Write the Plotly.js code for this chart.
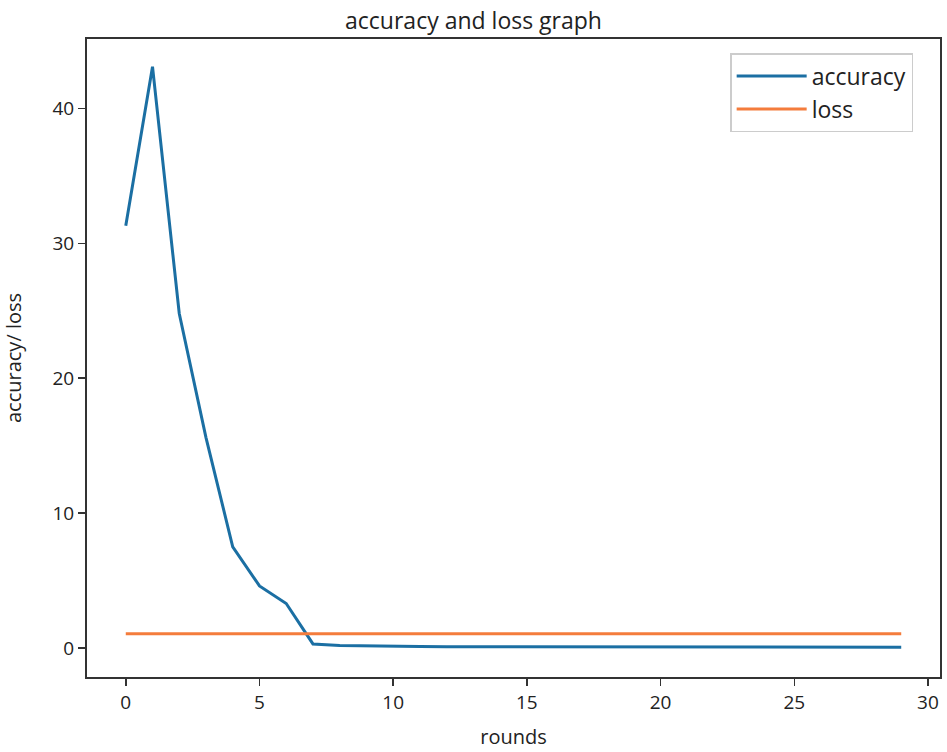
<!DOCTYPE html>
<html>
<head>
<meta charset="utf-8">
<script src="https://cdn.plot.ly/plotly-3.0.1.min.js"></script>
<style>html,body{margin:0;padding:0;background:#fff;}#chart{width:947px;height:752px;}</style>
</head>
<body>
<div id="chart"></div>
<script>
const rounds = [0,1,2,3,4,5,6,7,8,9,10,11,12,13,14,15,16,17,18,19,20,21,22,23,24,25,26,27,28,29];
const accuracy = [31.3,43.1,24.8,15.6,7.5,4.6,3.3,0.3,0.18,0.14,0.12,0.11,0.1,0.1,0.09,0.09,0.08,0.08,0.08,0.07,0.07,0.07,0.07,0.06,0.06,0.06,0.06,0.05,0.05,0.05];
const loss = [1.05,1.05,1.05,1.05,1.05,1.05,1.05,1.05,1.05,1.05,1.05,1.05,1.05,1.05,1.05,1.05,1.05,1.05,1.05,1.05,1.05,1.05,1.05,1.05,1.05,1.05,1.05,1.05,1.05,1.05];
const xTicks = [0,5,10,15,20,25,30];
const yTicks = [0,10,20,30,40];

const traces = [
  {x: rounds, y: accuracy, name: 'accuracy', mode: 'lines', line: {color: '#1b6fa3', width: 3}},
  {x: rounds, y: loss, name: 'loss', mode: 'lines', line: {color: '#f47c3c', width: 3}}
];
const font = {family: '"Open Sans", "Noto Sans", sans-serif', color: '#222'};
const layout = {
  width: 947, height: 752,
  margin: {l: 87, r: 7, t: 39, b: 75},
  paper_bgcolor: '#fff', plot_bgcolor: '#fff',
  font: Object.assign({size: 18}, font),
  title: {text: 'accuracy and loss graph', font: Object.assign({size: 23}, font), x: 0.5, xanchor: 'center', y: 0.983, yanchor: 'top'},
  showlegend: true,
  legend: {x: 0.754, y: 0.978, xanchor: 'left', yanchor: 'top', bordercolor: '#ccc', borderwidth: 1.5,
           bgcolor: '#fff', font: Object.assign({size: 23}, font), tracegroupgap: 0, itemwidth: 70},
  xaxis: {range: [-1.45, 30.45], tickvals: xTicks, ticks: 'outside', ticklen: 7, tickwidth: 1.5, tickcolor: '#333',
          showline: true, linecolor: '#333', linewidth: 2, mirror: true, showgrid: false, zeroline: false,
          tickfont: {size: 19}, title: {text: 'rounds', font: {size: 20}, standoff: 16}},
  yaxis: {range: [-2.15, 45.15], tickvals: yTicks, ticks: 'outside', ticklen: 7, tickwidth: 1.5, tickcolor: '#333',
          showline: true, linecolor: '#333', linewidth: 2, mirror: true, showgrid: false, zeroline: false,
          tickfont: {size: 19}, title: {text: 'accuracy/ loss', font: {size: 20}, standoff: 26}}
};
Plotly.newPlot('chart', traces, layout, {displayModeBar: false, staticPlot: true});
</script>
</body>
</html>
